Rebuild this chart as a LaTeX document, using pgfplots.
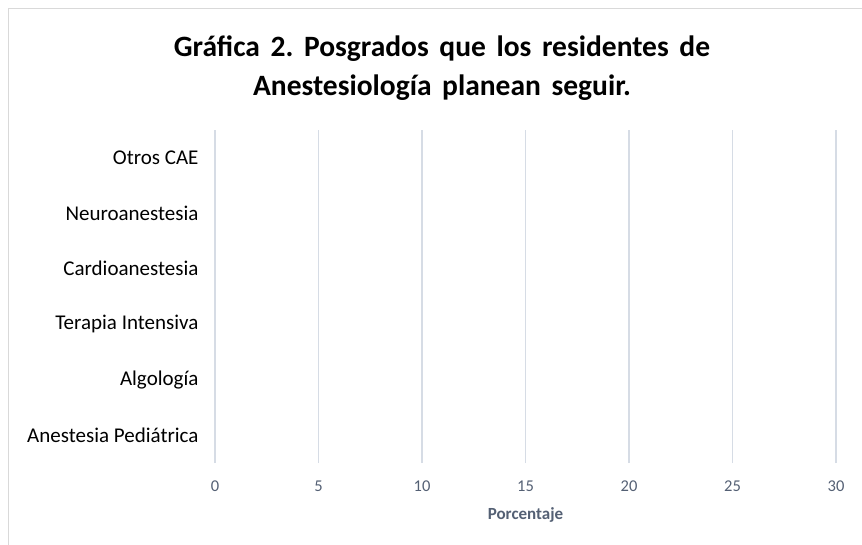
\documentclass[border=0pt]{standalone}
\usepackage{fontspec}
\setmainfont{Carlito}
\usepackage{pgfplots}
\pgfplotsset{compat=1.18}
\definecolor{gridc}{RGB}{214,220,229}
\definecolor{tickc}{RGB}{84,96,116}
\definecolor{framec}{RGB}{217,217,217}
\newcommand\titlefont{\fontsize{29.5}{39}\selectfont\bfseries\spaceskip=0.36em\relax}

\begin{document}
\frenchspacing
\begin{tikzpicture}[x=1pt,y=1pt]
\useasboundingbox (0,0) rectangle (862,544);
\draw[framec, line width=1pt] (8.5,-10) rectangle (872,535.5);
\node[font=\titlefont, align=center] at (442,476)
  {Gráfica 2. Posgrados que los residentes de\\Anestesiología planean seguir.};
\begin{axis}[
  at={(215pt,81pt)}, anchor=south west,
  width=621pt, height=333pt, scale only axis,
  xmin=0, xmax=30, ymin=-0.5, ymax=5.5,
  xtick={0,5,...,30},
  ytick={0,...,5},
  yticklabels={Anestesia Pediátrica, Algología, Terapia Intensiva, Cardioanestesia, Neuroanestesia, Otros CAE},
  axis line style={draw=none},
  major tick length=0pt,
  xmajorgrids, grid style={gridc, line width=1.6pt},
  /pgf/number format/assume math mode=true,
  xticklabel style={font=\fontsize{16.5}{20}\selectfont, text=tickc, yshift=-14pt},
  yticklabel style={font=\fontsize{21}{25}\selectfont, text=black, xshift=-13pt},
  xlabel={Porcentaje},
  xlabel style={font=\fontsize{17}{20}\selectfont\bfseries, text=tickc,
    at={(axis description cs:0.5,0)}, anchor=center, yshift=-52pt},
]
% las barras tienen valor 0 en la grafica original
\addplot[xbar, bar width=30pt, fill=none, draw=none]
  coordinates {(0,0) (0,1) (0,2) (0,3) (0,4) (0,5)};
\end{axis}
\end{tikzpicture}
\end{document}
